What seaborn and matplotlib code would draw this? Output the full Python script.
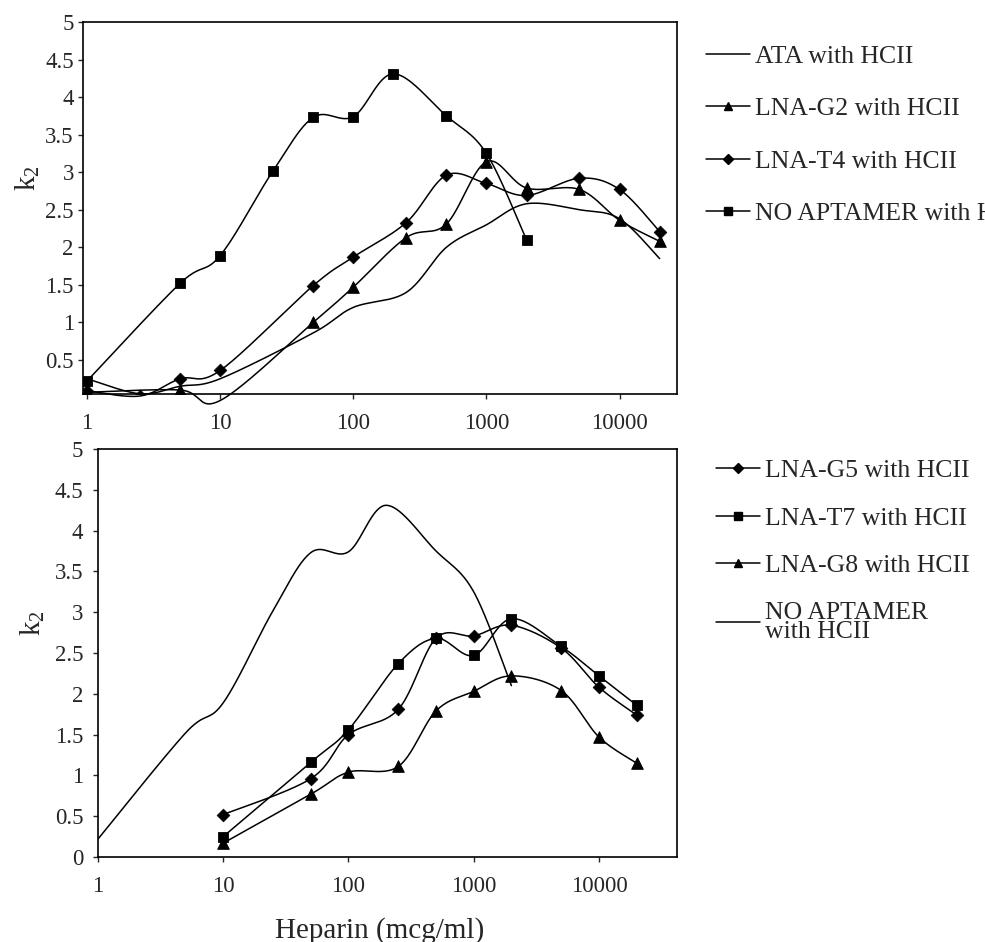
import numpy as np
import matplotlib
matplotlib.use("Agg")
import matplotlib.pyplot as plt
from matplotlib.lines import Line2D
from matplotlib.ticker import NullLocator
import seaborn as sns

# heparin doses (mcg/ml) for each series
dose_top = [1, 2.5, 5, 10, 50, 100, 250, 500, 1000, 2000, 5000, 10000, 20000]
dose_g2 = [1, 5, 10, 50, 100, 250, 500, 1000, 2000, 5000, 10000, 20000]
dose_noapt = [1, 5, 10, 25, 50, 100, 200, 500, 1000, 2000]
dose_bottom = [10, 50, 100, 250, 500, 1000, 2000, 5000, 10000, 20000]

# k2 values, upper panel
k2_ata = [0.25, 0.05, 0.15, 0.25, 0.86, 1.20, 1.40, 2.00, 2.30, 2.58, 2.50, 2.38, 1.85]
k2_g2 = [0.07, 0.10, -0.04, 1.00, 1.47, 2.13, 2.31, 3.14, 2.79, 2.77, 2.36, 2.08]
k2_t4 = [0.09, 0.02, 0.25, 0.36, 1.49, 1.87, 2.33, 2.96, 2.85, 2.69, 2.92, 2.77, 2.21]
k2_noapt = [0.22, 1.52, 1.89, 3.02, 3.73, 3.74, 4.31, 3.75, 3.25, 2.10]

# k2 values, lower panel
k2_g5 = [0.52, 0.96, 1.50, 1.81, 2.68, 2.71, 2.84, 2.56, 2.08, 1.74]
k2_t7 = [0.25, 1.16, 1.56, 2.37, 2.68, 2.47, 2.92, 2.58, 2.22, 1.86]
k2_g8 = [0.17, 0.77, 1.04, 1.11, 1.79, 2.03, 2.22, 2.04, 1.47, 1.15]

xticks = [1, 10, 100, 1000, 10000]


def smooth(xs, ys, n=40):
    # excel-like smoothed line (bezier through the points, in log-x space)
    lx = np.log10(np.asarray(xs, float))
    y = np.asarray(ys, float)
    px = np.r_[lx[0], lx, lx[-1]]
    py = np.r_[y[0], y, y[-1]]
    t = np.linspace(0, 1, n)
    ox, oy = [], []
    for i in range(1, len(px) - 2):
        for p, o in ((px, ox), (py, oy)):
            p0, p1, p2, p3 = p[i - 1:i + 3]
            c1 = p1 + (p2 - p0) / 6
            c2 = p2 - (p3 - p1) / 6
            o.extend((1 - t) ** 3 * p1 + 3 * (1 - t) ** 2 * t * c1
                     + 3 * (1 - t) * t ** 2 * c2 + t ** 3 * p2)
    return 10 ** np.array(ox), np.array(oy)


def draw(ax, xs, ys, marker=None, size=40, clip=True):
    sx, sy = smooth(xs, ys)
    sns.lineplot(x=sx, y=sy, ax=ax, color="black", lw=1.1, sort=False,
                 estimator=None)
    ax.lines[-1].set_clip_on(clip)
    if marker:
        sns.scatterplot(x=xs, y=ys, ax=ax, marker=marker, s=size,
                        color="black", edgecolor="black", zorder=3)


sns.set_style("white")
plt.rcParams["font.family"] = ["Liberation Serif", "DejaVu Serif"]
plt.rcParams["mathtext.fontset"] = "custom"
plt.rcParams["mathtext.rm"] = "Liberation Serif"

fig = plt.figure(figsize=(9.85, 9.42), dpi=100)
ax1 = fig.add_axes([83 / 985, 1 - 394 / 942, 594 / 985, 372 / 942])
ax2 = fig.add_axes([98 / 985, 1 - 857 / 942, 579 / 985, 408 / 942])

for ax in (ax1, ax2):
    ax.set_xscale("log")

# upper panel
draw(ax1, dose_top, k2_ata, clip=False)
draw(ax1, dose_g2, k2_g2, "^", 70, clip=False)
draw(ax1, dose_top, k2_t4, "D", 42, clip=False)
draw(ax1, dose_noapt, k2_noapt, "s", 56, clip=False)
ax1.set_xlim(0.933, 27000)
ax1.set_ylim(0.047, 5)
ax1.set_yticks(np.arange(0.5, 5.01, 0.5))
ax1.set_yticklabels([f"{v:g}" for v in np.arange(0.5, 5.01, 0.5)])

# lower panel
draw(ax2, dose_bottom, k2_g5, "D", 42)
draw(ax2, dose_bottom, k2_t7, "s", 56)
draw(ax2, dose_bottom, k2_g8, "^", 70)
draw(ax2, dose_noapt, k2_noapt)
ax2.set_xlim(1, 42000)
ax2.set_ylim(0, 5)
ax2.set_yticks(np.arange(0, 5.01, 0.5))
ax2.set_yticklabels([f"{v:g}" for v in np.arange(0, 5.01, 0.5)])

for ax, ypad in ((ax1, 3), (ax2, 7)):
    ax.set_xticks(xticks)
    ax.set_xticklabels([str(v) for v in xticks])
    ax.xaxis.set_minor_locator(NullLocator())
    ax.tick_params(axis="x", direction="out", length=3.6, width=1, pad=10,
                   labelsize=16.5, bottom=True)
    ax.tick_params(axis="y", direction="out", length=3.6, width=1, pad=ypad,
                   labelsize=16.5, left=True)
    for sp in ax.spines.values():
        sp.set_color("black")
        sp.set_linewidth(1.2)
    ax.set_ylabel(r"$\mathregular{k_2}$", fontsize=21)

ax1.yaxis.set_label_coords(-0.069, 0.58)
ax2.yaxis.set_label_coords(-0.088, 0.574)
ax2.set_xlabel("Heparin (mcg/ml)", fontsize=21)
ax2.xaxis.set_label_coords(0.487, -0.147)


def handle(marker=None, ms=5.5):
    return Line2D([], [], color="black", lw=1.1, marker=marker, ms=ms,
                  markerfacecolor="black", markeredgecolor="black")


leg_kw = dict(frameon=False, fontsize=18.5, loc="upper left", borderpad=0,
              borderaxespad=0, handlelength=1.7, handletextpad=0.2,
              bbox_transform=fig.transFigure)
fig.legend([handle(), handle("^"), handle("D", 5), handle("s")],
           ["ATA with HCII", "LNA-G2 with HCII", "LNA-T4 with HCII",
            "NO APTAMER with HCII"],
           bbox_to_anchor=(706 / 985, 1 - 45 / 942), labelspacing=1.14,
           **leg_kw)
leg2 = fig.legend([handle("D", 5), handle("s"), handle("^"), handle()],
                  ["LNA-G5 with HCII", "LNA-T7 with HCII", "LNA-G8 with HCII",
                   "NO APTAMER\nwith HCII"],
                  bbox_to_anchor=(716 / 985, 1 - 459 / 942), labelspacing=0.96,
                  **leg_kw)
for t in leg2.get_texts():
    t.set_linespacing(0.8)

fig.savefig("out.png", dpi=100)
